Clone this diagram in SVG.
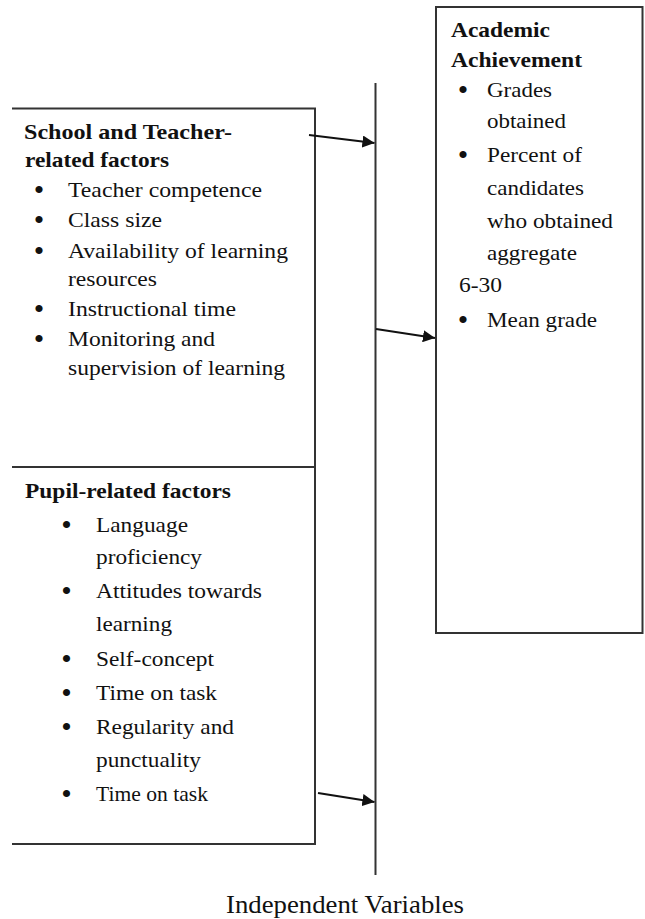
<svg xmlns="http://www.w3.org/2000/svg" width="645" height="919" viewBox="0 0 645 919">
  <style>
    text { font-family: "Liberation Serif", "Times New Roman", serif; font-size: 22px; fill: #111; }
    text.b { font-weight: bold; }
    text.dot { font-size: 30px; text-anchor: middle; }
    text.caption { font-size: 25px; }
    .frame { fill: none; stroke: #333; stroke-width: 2; }
    .conn { stroke: #111; stroke-width: 2.2; fill: none; }
  </style>
  <defs>
    <marker id="arrow" viewBox="0 0 10 10" refX="10" refY="5" markerWidth="5.5" markerHeight="5.5" orient="auto" markerUnits="strokeWidth">
      <path d="M0,0 L10,5 L0,10 z" fill="#111"/>
    </marker>
  </defs>

  <!-- School and teacher factors: open on the left side -->
  <g id="school-teacher">
    <path class="frame" d="M12,108.5 H315 V467 H12"/>
    <text class="b" x="24" y="139" textLength="208" lengthAdjust="spacingAndGlyphs">School and Teacher-</text>
    <text class="b" x="25" y="167" textLength="144" lengthAdjust="spacingAndGlyphs">related factors</text>
    <text class="dot" x="39" y="200">•</text>
    <text x="68" y="197" textLength="194" lengthAdjust="spacingAndGlyphs">Teacher competence</text>
    <text class="dot" x="39" y="230">•</text>
    <text x="68" y="227" textLength="94" lengthAdjust="spacingAndGlyphs">Class size</text>
    <text class="dot" x="39" y="261">•</text>
    <text x="68" y="258" textLength="220" lengthAdjust="spacingAndGlyphs">Availability of learning</text>
    <text x="68" y="286" textLength="89" lengthAdjust="spacingAndGlyphs">resources</text>
    <text class="dot" x="39" y="319">•</text>
    <text x="68" y="316" textLength="168" lengthAdjust="spacingAndGlyphs">Instructional time</text>
    <text class="dot" x="39" y="349">•</text>
    <text x="68" y="346" textLength="147" lengthAdjust="spacingAndGlyphs">Monitoring and</text>
    <text x="68" y="375" textLength="217" lengthAdjust="spacingAndGlyphs">supervision of learning</text>
  </g>

  <!-- Pupil factors -->
  <g id="pupil">
    <path class="frame" d="M315,467 V844 H12"/>
    <text class="b" x="25" y="498" textLength="206" lengthAdjust="spacingAndGlyphs">Pupil-related factors</text>
    <text class="dot" x="66.5" y="535">•</text>
    <text x="96" y="532" textLength="92" lengthAdjust="spacingAndGlyphs">Language</text>
    <text x="96" y="564" textLength="106" lengthAdjust="spacingAndGlyphs">proficiency</text>
    <text class="dot" x="66.5" y="601">•</text>
    <text x="96" y="598" textLength="166" lengthAdjust="spacingAndGlyphs">Attitudes towards</text>
    <text x="96" y="631" textLength="76" lengthAdjust="spacingAndGlyphs">learning</text>
    <text class="dot" x="66.5" y="669">•</text>
    <text x="96" y="666" textLength="118" lengthAdjust="spacingAndGlyphs">Self-concept</text>
    <text class="dot" x="66.5" y="703">•</text>
    <text x="96" y="700" textLength="121" lengthAdjust="spacingAndGlyphs">Time on task</text>
    <text class="dot" x="66.5" y="737">•</text>
    <text x="96" y="734" textLength="138" lengthAdjust="spacingAndGlyphs">Regularity and</text>
    <text x="96" y="767" textLength="105" lengthAdjust="spacingAndGlyphs">punctuality</text>
    <text class="dot" x="66.5" y="804">•</text>
    <text x="96" y="801" textLength="112" lengthAdjust="spacingAndGlyphs">Time on task</text>
  </g>

  <!-- Independent variables axis -->
  <g id="independent-axis">
    <line class="frame" x1="375.5" y1="83" x2="375.5" y2="875"/>
    <text class="caption" x="226" y="913" textLength="238" lengthAdjust="spacingAndGlyphs">Independent Variables</text>
  </g>

  <!-- Outcome box -->
  <g id="academic-achievement">
    <rect class="frame" x="436" y="7" width="206.5" height="626"/>
    <text class="b" x="451" y="37" textLength="99" lengthAdjust="spacingAndGlyphs">Academic</text>
    <text class="b" x="451" y="67" textLength="131" lengthAdjust="spacingAndGlyphs">Achievement</text>
    <text class="dot" x="463" y="100">•</text>
    <text x="487" y="97" textLength="65" lengthAdjust="spacingAndGlyphs">Grades</text>
    <text x="487" y="128" textLength="79" lengthAdjust="spacingAndGlyphs">obtained</text>
    <text class="dot" x="463" y="165">•</text>
    <text x="487" y="162" textLength="95" lengthAdjust="spacingAndGlyphs">Percent of</text>
    <text x="487" y="195" textLength="97" lengthAdjust="spacingAndGlyphs">candidates</text>
    <text x="487" y="228" textLength="126" lengthAdjust="spacingAndGlyphs">who obtained</text>
    <text x="487" y="260" textLength="90" lengthAdjust="spacingAndGlyphs">aggregate</text>
    <text x="459" y="292" textLength="43" lengthAdjust="spacingAndGlyphs">6-30</text>
    <text class="dot" x="463" y="330">•</text>
    <text x="487" y="327" textLength="110" lengthAdjust="spacingAndGlyphs">Mean grade</text>
  </g>

  <g id="connectors">
    <line class="conn" x1="309" y1="135" x2="374.5" y2="143" marker-end="url(#arrow)"/>
    <line class="conn" x1="376" y1="329" x2="435" y2="338" marker-end="url(#arrow)"/>
    <line class="conn" x1="318" y1="793" x2="374.5" y2="802" marker-end="url(#arrow)"/>
  </g>
</svg>
